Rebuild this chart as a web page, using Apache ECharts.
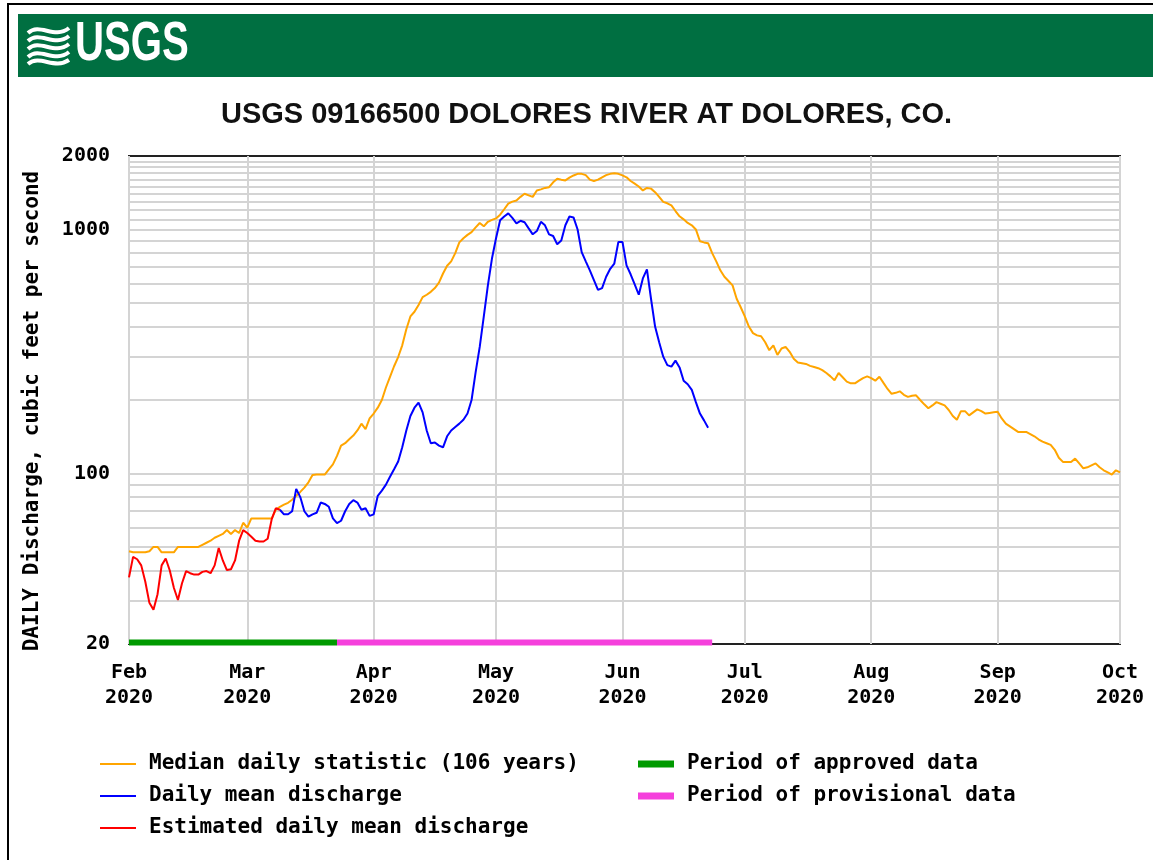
<!DOCTYPE html>
<html>
<head>
<meta charset="utf-8">
<script src="https://cdn.jsdelivr.net/npm/echarts@6/dist/echarts.min.js"></script>
<style>
  html, body { margin: 0; padding: 0; background: #fff; }
  #chart { width: 1153px; height: 860px; }
</style>
</head>
<body>
<div id="chart"></div>
<script>
// ---------------- DATA ----------------
const startDate = '2020-02-01';
const endDate = '2020-10-01';
const monthNames = ['Jan','Feb','Mar','Apr','May','Jun','Jul','Aug','Sep','Oct','Nov','Dec'];

// Median daily statistic (106 years), one value per day from Feb 1 to Oct 1 2020
const median = [
  48,47.5,47.5,47.5,47.5,48,50,50,47.5,47.5,
  47.5,47.5,50,50,50,50,50,50,51,52,
  53,54.5,55.5,56.5,58.6,56.5,58.6,57,62.8,60,
  65.4,65.4,65.4,65.4,65.4,65.4,71,73,74.5,75.8,
  78,81,84,87.5,92,98.5,99,99,99,104,
  109,118,130,133,138,143,150,160,152,168,
  176,186,200,225,249,275,300,335,390,440,
  460,490,528,540,555,575,605,660,710,740,
  800,885,920,950,975,1020,1063,1030,1075,1095,
  1110,1150,1210,1275,1300,1315,1360,1400,1380,1360,
  1445,1460,1480,1490,1560,1613,1600,1588,1630,1664,
  1690,1690,1670,1600,1577,1600,1636,1670,1690,1700,
  1690,1665,1636,1580,1540,1500,1445,1480,1470,1422,
  1360,1297,1280,1255,1190,1132,1100,1063,1040,1000,
  895,885,878,800,740,680,640,615,590,520,
  480,440,400,376,368,365,345,320,335,306,
  325,330,315,295,285,283,281,276,273,270,
  265,258,250,241,258,248,238,234,234,240,
  246,250,246,240,249,235,222,212,214,217,
  210,206,208,209,200,192,185,190,196,193,
  190,182,172,166,180,180,173,178,183,180,
  176,177,178,179,168,160,156,152,148,148,
  148,145,142,138,135,133,131,125,116,111.5,
  111.5,111.5,115,110,105,106,108,110,106,103,
  101,99,103,101
];

// Estimated daily mean discharge (red), from Feb 1
const estimatedStart = '2020-02-01';
const estimated = [
  37.5,45.5,44.5,42,36,29.5,27.6,32,42,44.8,
  40,34,30.3,35.5,39.8,39,38.5,38.5,39.5,39.8,
  39,42,49.5,44,40.2,40.5,44,53,58.6,57,
  55,53,52.6,52.6,54,65,72,71
];

// Daily mean discharge (blue), from Mar 9
const dailyMeanStart = '2020-03-09';
const dailyMean = [
  71,68,68,70,86.5,80,70,66.5,68,69,
  76,75,73,65.4,62.6,64,70,75,77.7,76,
  71,72,67,68,81,85,90,97,104,112,
  128,150,172,186,195,178,150,133,134,130,
  128,142,150,155,160,166,176,200,260,330,
  440,590,760,920,1090,1130,1164,1115,1060,1085,
  1070,1010,955,985,1075,1040,955,940,870,900,
  1040,1130,1120,1000,807,740,680,620,565,575,
  640,690,725,889,889,712,655,595,540,630,
  686,520,400,345,301,278,274,290,272,240,
  232,220,196,176,165,154
];

// Data-approval periods
const approvedPeriod = ['2020-02-01', '2020-03-23'];
const provisionalPeriod = ['2020-03-23', '2020-06-23'];
const periodBarLevel = 20.3;

// Y axis range and gridline values (cfs)
const yMin = 20, yMax = 2000;
const gridValues = [30,40,50,60,70,80,90,100,200,300,400,500,600,700,800,900,1000,
  1100,1200,1300,1400,1500,1600,1700,1800,1900];

const seriesNames = {
  median: 'Median daily statistic (106 years)',
  mean: 'Daily mean discharge',
  est: 'Estimated daily mean discharge',
  approved: 'Period of approved data',
  provisional: 'Period of provisional data'
};

// ---------------- BUILD ----------------
function buildDates(a, b) {
  const out = [];
  const d = new Date(a + 'T00:00:00Z');
  const end = new Date(b + 'T00:00:00Z');
  while (d <= end) {
    out.push(d.toISOString().slice(0, 10));
    d.setUTCDate(d.getUTCDate() + 1);
  }
  return out;
}
const dates = buildDates(startDate, endDate);

function place(values, start) {
  const arr = new Array(dates.length).fill(null);
  const s = dates.indexOf(start);
  values.forEach((v, i) => { arr[s + i] = v; });
  return arr;
}
function periodData(period) {
  const arr = new Array(dates.length).fill(null);
  const s = dates.indexOf(period[0]), e = dates.indexOf(period[1]);
  for (let i = s; i <= e; i++) arr[i] = periodBarLevel;
  return arr;
}
const isMonthStart = (idx, val) => val.slice(8, 10) === '01';

const mono = 'DejaVu Sans Mono';
const gridColor = '#d4d4d4';

const chart = echarts.init(document.getElementById('chart'), null, { renderer: 'canvas' });

function lineSeries(name, data, color, z) {
  return {
    name, type: 'line', data,
    symbol: 'none', showSymbol: false, connectNulls: false,
    lineStyle: { color, width: 2 }, itemStyle: { color },
    z, animation: false, silent: true
  };
}

const legendText = { fontFamily: mono, fontWeight: 'bold', fontSize: 21, lineHeight: 22, color: '#000', padding: [0, 0, 0, 8] };

const option = {
  animation: false,
  backgroundColor: '#fff',
  title: {
    text: 'USGS 09166500 DOLORES RIVER AT DOLORES, CO.',
    left: 216, top: 95,
    textStyle: { fontFamily: 'Liberation Sans', fontWeight: 'bold', fontSize: 29, color: '#111' }
  },
  graphic: [
    { type: 'rect', silent: true, shape: { x: 8, y: 4, width: 1170, height: 880 },
      style: { fill: 'none', stroke: '#000', lineWidth: 2 } },
    { type: 'rect', silent: true, shape: { x: 18, y: 14, width: 1150, height: 63 },
      style: { fill: '#006F41' } },
    { type: 'text', silent: true, x: 75, y: 17, scaleX: 0.73,
      style: { text: 'USGS', fill: '#fff', font: 'bold 55px "Liberation Sans"' } },
    { type: 'bezierCurve', silent: true, shape: { x1: 28, y1: 33, cpx1: 40, cpy1: 22, cpx2: 54, cpy2: 40, x2: 69, y2: 28 }, style: { stroke: '#fff', lineWidth: 4, fill: 'none' } },
    { type: 'bezierCurve', silent: true, shape: { x1: 28, y1: 41, cpx1: 40, cpy1: 30, cpx2: 54, cpy2: 48, x2: 69, y2: 36 }, style: { stroke: '#fff', lineWidth: 4, fill: 'none' } },
    { type: 'bezierCurve', silent: true, shape: { x1: 28, y1: 49, cpx1: 40, cpy1: 38, cpx2: 54, cpy2: 56, x2: 69, y2: 44 }, style: { stroke: '#fff', lineWidth: 4, fill: 'none' } },
    { type: 'bezierCurve', silent: true, shape: { x1: 28, y1: 57, cpx1: 40, cpy1: 46, cpx2: 54, cpy2: 64, x2: 69, y2: 52 }, style: { stroke: '#fff', lineWidth: 4, fill: 'none' } },
    { type: 'bezierCurve', silent: true, shape: { x1: 28, y1: 64, cpx1: 40, cpy1: 54, cpx2: 54, cpy2: 70, x2: 69, y2: 60 }, style: { stroke: '#fff', lineWidth: 4, fill: 'none' } }
  ],
  grid: {
    left: 129, right: 33, top: 156, bottom: 216,
    show: true, borderColor: '#222', borderWidth: 2, backgroundColor: 'transparent'
  },
  legend: [
    {
      orient: 'vertical', left: 95, top: 748,
      itemWidth: 36, itemHeight: 2, itemGap: 10,
      textStyle: legendText,
      data: [
        { name: seriesNames.median, icon: 'rect' },
        { name: seriesNames.mean, icon: 'rect' },
        { name: seriesNames.est, icon: 'rect' }
      ],
      selectedMode: false
    },
    {
      orient: 'vertical', left: 633, top: 748,
      itemWidth: 36, itemHeight: 7, itemGap: 10,
      textStyle: legendText,
      data: [
        { name: seriesNames.approved, icon: 'rect' },
        { name: seriesNames.provisional, icon: 'rect' }
      ],
      selectedMode: false
    }
  ],
  xAxis: {
    type: 'category',
    data: dates,
    boundaryGap: false,
    axisLine: { show: false },
    axisTick: { show: false },
    axisLabel: {
      interval: isMonthStart,
      showMinLabel: true, showMaxLabel: true,
      margin: 16,
      lineHeight: 25,
      fontFamily: mono, fontWeight: 'bold', fontSize: 20, color: '#000',
      formatter: v => monthNames[parseInt(v.slice(5, 7), 10) - 1] + '\n' + v.slice(0, 4)
    },
    splitLine: { show: true, interval: isMonthStart, lineStyle: { color: gridColor, width: 2 } }
  },
  yAxis: {
    type: 'log', logBase: 10, min: yMin, max: yMax,
    name: 'DAILY Discharge, cubic feet per second',
    nameLocation: 'middle', nameGap: 86, nameRotate: 90,
    nameTextStyle: { fontFamily: mono, fontWeight: 'bold', fontSize: 21, color: '#000', padding: [0, 22, 0, 0] },
    axisLine: { show: false },
    axisTick: { show: false },
    splitLine: { show: false },
    axisLabel: {
      showMinLabel: true, showMaxLabel: true, margin: 19,
      fontFamily: mono, fontWeight: 'bold', fontSize: 20, color: '#000',
      formatter: v => String(Math.round(v))
    }
  },
  series: [
    Object.assign(lineSeries(seriesNames.median, median, '#FFA500', 3), {
      markLine: {
        silent: true, z: 1, symbol: ['none', 'none'], animation: false,
        label: { show: false },
        lineStyle: { color: gridColor, width: 2, type: 'solid' },
        emphasis: { disabled: true },
        data: gridValues.map(v => ({ yAxis: v }))
      }
    }),
    lineSeries(seriesNames.mean, place(dailyMean, dailyMeanStart), '#0000FF', 4),
    lineSeries(seriesNames.est, place(estimated, estimatedStart), '#FF0000', 4),
    {
      name: seriesNames.approved, type: 'line', data: periodData(approvedPeriod),
      symbol: 'none', showSymbol: false, silent: true, z: 5,
      lineStyle: { color: '#009A00', width: 6, cap: 'butt' }, itemStyle: { color: '#009A00' }
    },
    {
      name: seriesNames.provisional, type: 'line', data: periodData(provisionalPeriod),
      symbol: 'none', showSymbol: false, silent: true, z: 5,
      lineStyle: { color: '#F540DC', width: 6, cap: 'butt' }, itemStyle: { color: '#F540DC' }
    }
  ]
};
chart.setOption(option);
</script>
</body>
</html>
